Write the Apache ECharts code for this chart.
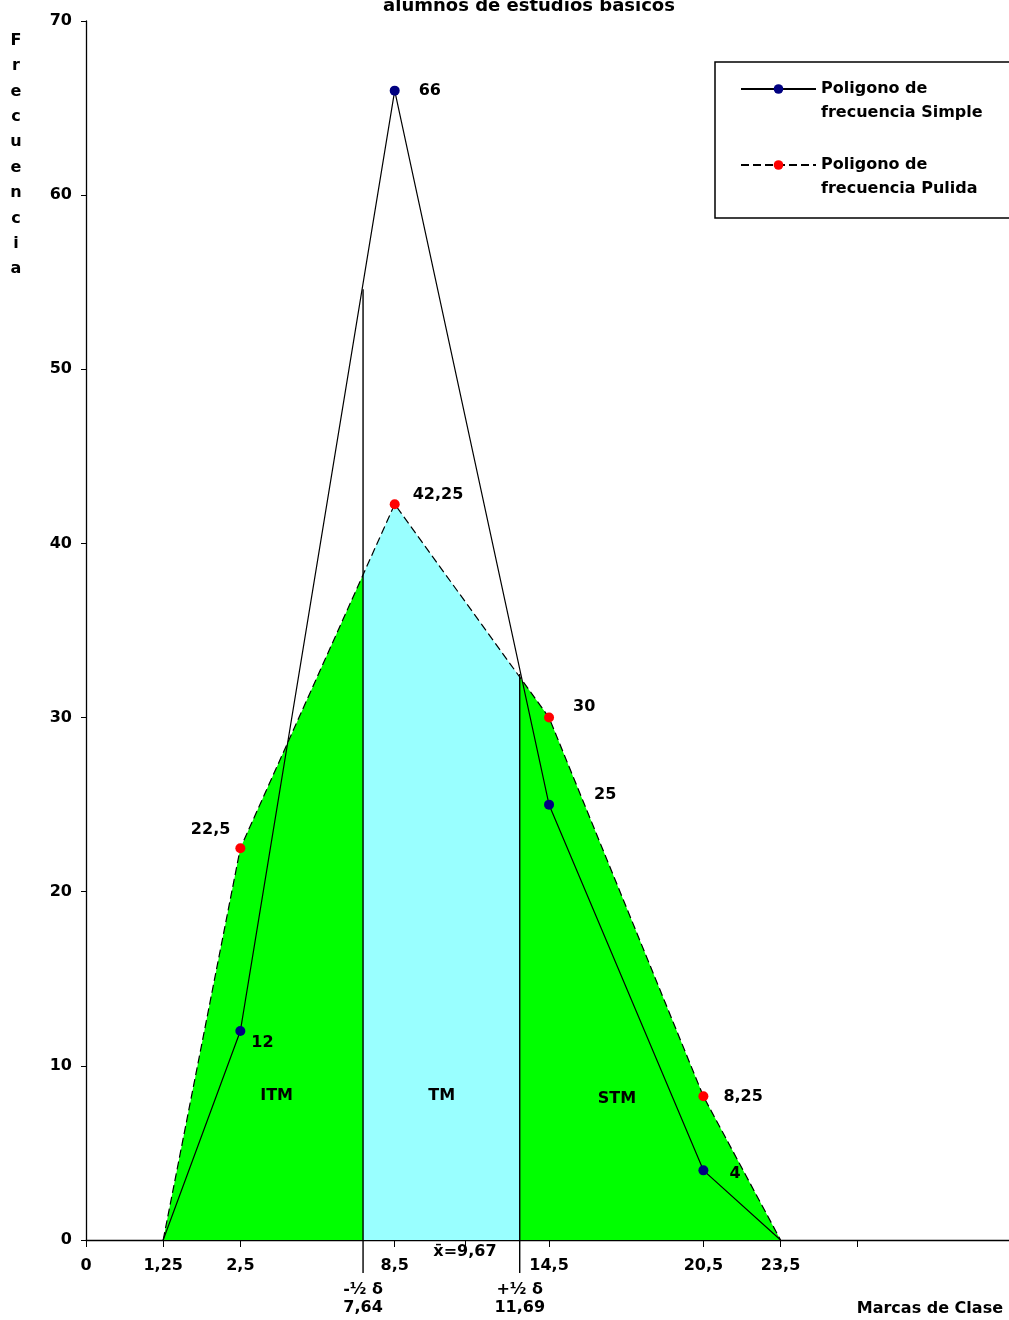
<!DOCTYPE html>
<html>
<head>
<meta charset="utf-8">
<script src="https://cdn.jsdelivr.net/npm/echarts@6/dist/echarts.min.js"></script>
<style>
  html, body { margin: 0; padding: 0; background: #fff; }
  #chart { width: 1009px; height: 1320px; }
</style>
</head>
<body>
<div id="chart"></div>
<script>
// class marks and where they sit along the (stretched) x axis
const marcas = ['0', '1,25', '2,5', '8,5', '14,5', '20,5', '23,5'];
const marcaSlots = [0, 1, 2, 4, 6, 8, 9];
const tickSlots = [0, 1, 2, 4, 4.91, 6, 8, 9, 10];

// polygons: 1,25 2,5 8,5 14,5 20,5 23,5
const claseSlots = [1, 2, 4, 6, 8, 9];
const frecSimple = [0, 12, 66, 25, 4, 0];
const frecPulida = [0, 22.5, 42.25, 30, 8.25, 0];

// -1/2 sigma and +1/2 sigma lines
const deltaSlots = [3.59, 5.62];
const deltaTop = [54.6, 32.5];
const deltaBottom = -1.9;
const deltaText = ['-½ δ\n7,64', '+½ δ\n11,69'];

const meanSlot = 4.91;
const meanText = 'x̄=9,67';

const zonas = ['ITM', 'TM', 'STM'];
const zonaSlots = [2.47, 4.61, 6.88];
const zonaY = [8.3, 8.3, 8.1];

const simpleName = 'Poligono de frecuencia Simple';
const pulidaName = 'Poligono de frecuencia Pulida';

// label placement for each point (style only)
const simpleLbl = [null, ['right', [1, 12]], ['right', [14, 0]], ['right', [35, -10]], ['right', [16, 4]], null];
const pulidaLbl = [null, ['left', [0, -18]], ['right', [8, -9]], ['right', [14, -11]], ['right', [10, 1]], null];

const font = { fontFamily: 'DejaVu Sans', fontWeight: 'bold', fontSize: 16, color: '#000' };
const fmt = (v) => String(v).replace('.', ',');

function polyData(values, lbl) {
  return values.map((v, i) => {
    const item = { value: [claseSlots[i], v] };
    if (!lbl[i]) {
      item.symbol = 'none';
      item.label = { show: false };
    } else {
      item.label = { show: true, position: lbl[i][0], offset: lbl[i][1] };
    }
    return item;
  });
}

const chart = echarts.init(document.getElementById('chart'));

const deltaSeries = deltaSlots.map((p, i) => ({
  type: 'line',
  data: [[p, deltaBottom], [p, deltaTop[i]]],
  symbol: 'none',
  clip: false,
  silent: true,
  lineStyle: { color: '#000', width: 1.4 },
}));

const textPts = []
  .concat(deltaSlots.map((p, i) => ({ value: [p, deltaBottom], label: { position: 'bottom', distance: 8, formatter: deltaText[i] } })))
  .concat([{ value: [meanSlot, 0], label: { position: 'bottom', distance: 3, formatter: meanText } }])
  .concat(zonas.map((z, i) => ({ value: [zonaSlots[i], zonaY[i]], label: { position: 'inside', formatter: z } })));

chart.setOption({
  animation: false,
  grid: { left: 86, right: 0, top: 21, bottom: 80 },
  xAxis: {
    type: 'value',
    min: 0,
    max: 11.96,
    splitLine: { show: false },
    axisLine: { onZero: false, lineStyle: { color: '#000', width: 1.3 } },
    axisTick: { show: true, length: 7, customValues: tickSlots, lineStyle: { color: '#000' } },
    axisLabel: {
      ...font,
      margin: 18,
      customValues: marcaSlots,
      formatter: (v) => marcas[marcaSlots.indexOf(v)] || '',
    },
  },
  yAxis: {
    type: 'value',
    min: 0,
    max: 70,
    interval: 10,
    splitLine: { show: false },
    axisLine: { show: true, lineStyle: { color: '#000', width: 1.3 } },
    axisTick: { show: true, length: 5, lineStyle: { color: '#000' } },
    axisLabel: { ...font, margin: 14 },
  },
  visualMap: {
    show: false,
    type: 'piecewise',
    seriesIndex: 0,
    dimension: 0,
    pieces: [
      { lt: deltaSlots[0], color: '#00FF00' },
      { gte: deltaSlots[0], lt: deltaSlots[1], color: '#99FFFF' },
      { gte: deltaSlots[1], color: '#00FF00' },
    ],
  },
  legend: {
    data: [simpleName, pulidaName],
    orient: 'vertical',
    left: 740,
    top: 53,
    padding: 0,
    itemWidth: 75,
    itemHeight: 12,
    itemGap: 4,
    formatter: (n) => '\n' + n.replace(' frecuencia', '\nfrecuencia'),
    textStyle: { ...font, lineHeight: 24 },
  },
  graphic: [
    { type: 'rect', shape: { x: 715, y: 62, width: 320, height: 156 }, style: { fill: 'none', stroke: '#000', lineWidth: 1.5 }, silent: true },
    { type: 'text', x: 529, y: -3, style: { text: 'alumnos de estudios basicos', font: 'bold 18px "DejaVu Sans"', fill: '#000', textAlign: 'center' } },
    { type: 'text', x: 16, y: 28, style: { text: 'Frecuencia'.split('').join('\n'), font: 'bold 16px "DejaVu Sans"', lineHeight: 25.4, fill: '#000', textAlign: 'center' } },
    { type: 'text', right: 6, top: 1301, style: { text: 'Marcas de Clase', font: 'bold 16px "DejaVu Sans"', fill: '#000' } },
  ],
  series: [
    {
      type: 'line',
      data: frecPulida.map((v, i) => [claseSlots[i], v]),
      symbol: 'none',
      silent: true,
      lineStyle: { width: 0, opacity: 0 },
      areaStyle: { opacity: 1 },
      z: 1,
    },
    ...deltaSeries,
    {
      name: simpleName,
      type: 'line',
      data: polyData(frecSimple, simpleLbl),
      symbol: 'circle',
      symbolSize: 10,
      itemStyle: { color: '#000080', borderWidth: 0 },
      lineStyle: { color: '#000', width: 1.2 },
      label: { ...font, formatter: (p) => fmt(p.value[1]) },
      z: 4,
    },
    {
      name: pulidaName,
      type: 'line',
      data: polyData(frecPulida, pulidaLbl),
      symbol: 'circle',
      symbolSize: 10,
      itemStyle: { color: '#FF0000', borderWidth: 0 },
      lineStyle: { color: '#000', width: 1.2, type: [8, 4] },
      label: { ...font, formatter: (p) => fmt(p.value[1]) },
      z: 4,
    },
    {
      type: 'scatter',
      data: textPts,
      symbolSize: 0,
      clip: false,
      silent: true,
      itemStyle: { color: '#000', opacity: 1 },
      label: { show: true, ...font, lineHeight: 18, textBorderWidth: 0 },
      z: 5,
    },
  ],
});
</script>
</body>
</html>
